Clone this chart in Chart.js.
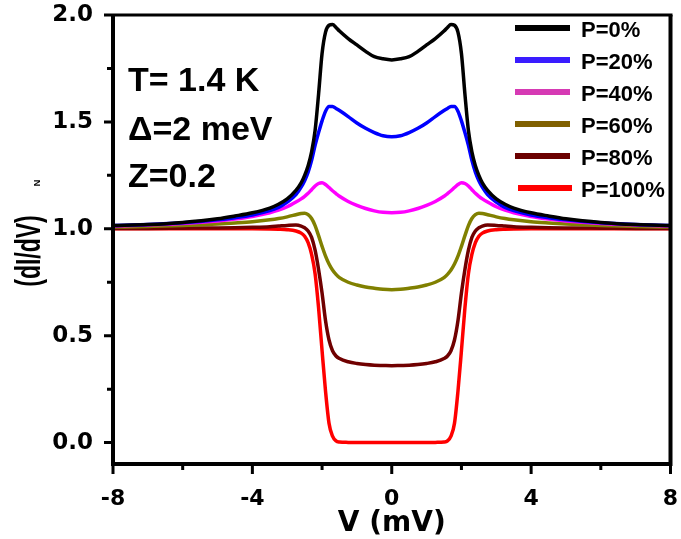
<!DOCTYPE html>
<html><head><meta charset="utf-8">
<script src="https://cdn.jsdelivr.net/npm/chart.js@4/dist/chart.umd.min.js"></script>
<style>html,body{margin:0;padding:0;background:#fff}#wrap{width:681px;height:539px}</style>
</head><body><div id="wrap"><canvas id="c" width="681" height="539"></canvas></div>
<script>
// V (mV)
const voltage = [-8,-7,-6,-5,-4.5,-4,-3.5,-3.25,-3,-2.75,-2.6,-2.5,-2.4,-2.3,-2.2,-2.1,-2,-1.9,-1.8,-1.7,-1.6,-1.5,-1.25,-1,-0.75,-0.5,-0.25,0,0.25,0.5,0.75,1,1.25,1.5,1.6,1.7,1.8,1.9,2,2.1,2.2,2.3,2.4,2.5,2.6,2.75,3,3.25,3.5,4,4.5,5,6,7,8];
const p0 = [1.015,1.02,1.03,1.047,1.06,1.075,1.097,1.115,1.14,1.18,1.215,1.25,1.295,1.36,1.46,1.63,1.82,1.92,1.952,1.956,1.942,1.925,1.89,1.86,1.83,1.805,1.795,1.79,1.795,1.805,1.83,1.86,1.89,1.925,1.942,1.956,1.952,1.92,1.82,1.63,1.46,1.36,1.295,1.25,1.215,1.18,1.14,1.115,1.097,1.075,1.06,1.047,1.03,1.02,1.015];
const p20 = [1.015,1.02,1.028,1.042,1.052,1.065,1.085,1.10,1.125,1.16,1.195,1.225,1.265,1.32,1.39,1.45,1.505,1.55,1.572,1.572,1.563,1.553,1.525,1.495,1.47,1.45,1.435,1.43,1.435,1.45,1.47,1.495,1.525,1.553,1.563,1.572,1.572,1.55,1.505,1.45,1.39,1.32,1.265,1.225,1.195,1.16,1.125,1.10,1.085,1.065,1.052,1.042,1.028,1.02,1.015];
const p40 = [1.013,1.018,1.025,1.037,1.046,1.058,1.075,1.087,1.103,1.125,1.14,1.152,1.166,1.183,1.20,1.212,1.215,1.207,1.193,1.178,1.165,1.152,1.128,1.11,1.095,1.084,1.077,1.075,1.077,1.084,1.095,1.11,1.128,1.152,1.165,1.178,1.193,1.207,1.215,1.212,1.20,1.183,1.166,1.152,1.14,1.125,1.103,1.087,1.075,1.058,1.046,1.037,1.025,1.018,1.013];
const p60 = [1.008,1.011,1.015,1.022,1.027,1.033,1.042,1.048,1.056,1.066,1.072,1.073,1.066,1.048,1.015,0.968,0.918,0.872,0.835,0.807,0.787,0.772,0.75,0.737,0.728,0.722,0.717,0.715,0.717,0.722,0.728,0.737,0.75,0.772,0.787,0.807,0.835,0.872,0.918,0.968,1.015,1.048,1.066,1.073,1.072,1.066,1.056,1.048,1.042,1.033,1.027,1.022,1.015,1.011,1.008];
const p80 = [1.002,1.002,1.003,1.004,1.005,1.007,1.01,1.013,1.016,1.018,1.013,1.005,0.99,0.96,0.90,0.81,0.70,0.57,0.48,0.43,0.405,0.393,0.378,0.37,0.365,0.362,0.361,0.36,0.361,0.362,0.365,0.37,0.378,0.393,0.405,0.43,0.48,0.57,0.70,0.81,0.90,0.96,0.99,1.005,1.013,1.018,1.016,1.013,1.01,1.007,1.005,1.004,1.003,1.002,1.002];
const p100 = [1,1,1,1,1,1,0.999,0.998,0.996,0.99,0.98,0.965,0.935,0.88,0.79,0.63,0.43,0.24,0.09,0.03,0.008,0.003,0.001,0,0,0,0,0,0,0,0,0,0.001,0.003,0.008,0.03,0.09,0.24,0.43,0.63,0.79,0.88,0.935,0.965,0.98,0.99,0.996,0.998,0.999,1,1,1,1,1,1];

const seriesNames = ['P=0%','P=20%','P=40%','P=60%','P=80%','P=100%'];
const seriesValues = [p0,p20,p40,p60,p80,p100];
const lineColors = ['#000000','#0000ff','#ff00ff','#808000','#700000','#ff0000'];
const legendColors = ['#000000','#3a1cff','#d63ab4','#806000','#6b0000','#ff0000'];
const xTickValues = [-8,-4,0,4,8];
const xMinorValues = [-6,-2,2,6];
const yTickValues = [0,0.5,1.0,1.5,2.0];
const yMinorValues = [0.25,0.75,1.25,1.75];
const annotations = ['T= 1.4 K','\u0394=2 meV','Z=0.2'];

const datasets = seriesValues.map((vals,i)=>({
  label: seriesNames[i],
  data: voltage.map((v,j)=>({x:v,y:vals[j]})),
  borderColor: lineColors[i],
  backgroundColor: lineColors[i],
  borderWidth: 3.5,
  pointRadius: 0,
  fill: false,
  cubicInterpolationMode: 'monotone'
}));

const deco = {
  id:'deco',
  afterDraw(chart){
    const ctx = chart.ctx, a = chart.chartArea;
    const xs = chart.scales.x, ys = chart.scales.y;
    ctx.save();
    ctx.strokeStyle = '#000';
    // frame
    ctx.lineWidth = 4;
    ctx.beginPath();
    ctx.moveTo(a.left, a.top); ctx.lineTo(a.left, a.bottom); ctx.lineTo(a.right, a.bottom); ctx.lineTo(a.right, a.top);
    ctx.stroke();
    ctx.lineWidth = 3;
    ctx.beginPath(); ctx.moveTo(a.left-2, a.top); ctx.lineTo(a.right+2, a.top); ctx.stroke();
    // ticks
    ctx.lineWidth = 3;
    ctx.beginPath();
    yTickValues.forEach(v=>{const y=ys.getPixelForValue(v); ctx.moveTo(a.left-2,y); ctx.lineTo(a.left-9,y);});
    yMinorValues.forEach(v=>{const y=ys.getPixelForValue(v); ctx.moveTo(a.left-2,y); ctx.lineTo(a.left-6,y);});
    xTickValues.forEach(v=>{const x=xs.getPixelForValue(v); ctx.moveTo(x,a.bottom+2); ctx.lineTo(x,a.bottom+10);});
    xMinorValues.forEach(v=>{const x=xs.getPixelForValue(v); ctx.moveTo(x,a.bottom+2); ctx.lineTo(x,a.bottom+6);});
    ctx.stroke();
    // y title
    ctx.fillStyle = '#000';
    ctx.save();
    ctx.translate(30, 251); ctx.rotate(-Math.PI/2); ctx.scale(1, 1.5);
    ctx.font = 'bold 23px "Liberation Sans", Arial, sans-serif';
    ctx.textAlign = 'center'; ctx.textBaseline = 'middle';
    ctx.fillText('(dI/dV)', 0, 0);
    ctx.restore();
    ctx.save();
    ctx.translate(38, 183); ctx.rotate(-Math.PI/2);
    ctx.font = 'bold 9px "Liberation Sans", Arial, sans-serif';
    ctx.textAlign = 'center'; ctx.textBaseline = 'middle';
    ctx.fillText('N', 0, 0);
    ctx.restore();
    // annotations
    ctx.font = 'bold 34px "Liberation Sans", Arial, sans-serif';
    ctx.textAlign = 'left'; ctx.textBaseline = 'alphabetic';
    const baseY = [91, 140, 187];
    annotations.forEach((t,i)=>ctx.fillText(t, 128, baseY[i]));
    // legend
    ctx.font = 'bold 22px "Liberation Sans", Arial, sans-serif';
    ctx.textBaseline = 'middle';
    seriesNames.forEach((n,i)=>{
      const yl = 28 + i*32;
      ctx.strokeStyle = legendColors[i];
      ctx.lineWidth = 6;
      ctx.beginPath(); ctx.moveTo(i===5?518:515, yl); ctx.lineTo(i===5?572:570, yl); ctx.stroke();
      ctx.fillStyle = '#000';
      ctx.fillText(n, 581, 31 + i*32);
    });
    ctx.restore();
  }
};

new Chart(document.getElementById('c'), {
  type:'line',
  data:{datasets},
  options:{
    responsive:false,
    devicePixelRatio:1,
    animation:false,
    layout:{padding:{left:0,right:10.5,top:15,bottom:0}},
    plugins:{legend:{display:false},tooltip:{enabled:false}},
    scales:{
      x:{
        type:'linear', min:-8, max:8,
        afterFit(s){ s.height = 75; },
        afterBuildTicks(s){ s.ticks = xTickValues.map(v=>({value:v})); },
        grid:{display:false, drawTicks:true, tickLength:22},
        border:{display:false},
        ticks:{padding:0, color:'#000', font:{family:'"DejaVu Sans"', weight:'bold', size:22}, maxRotation:0,
          callback:(v)=>String(v)},
        title:{display:true, text:'V (mV)', color:'#000', font:{family:'"DejaVu Sans"', weight:'bold', size:28, lineHeight:1}, padding:{top:0,bottom:1}}
      },
      y:{
        type:'linear', min:-0.1, max:2.0,
        afterFit(s){ s.width = 113; },
        afterBuildTicks(s){ s.ticks = yTickValues.map(v=>({value:v})); },
        grid:{display:false, drawTicks:true, tickLength:20},
        border:{display:false},
        ticks:{padding:0, color:'#000', font:{family:'"DejaVu Sans"', weight:'bold', size:23},
          callback:(v)=>Number(v).toFixed(1)}
      }
    }
  },
  plugins:[deco]
});
</script>
</body></html>
